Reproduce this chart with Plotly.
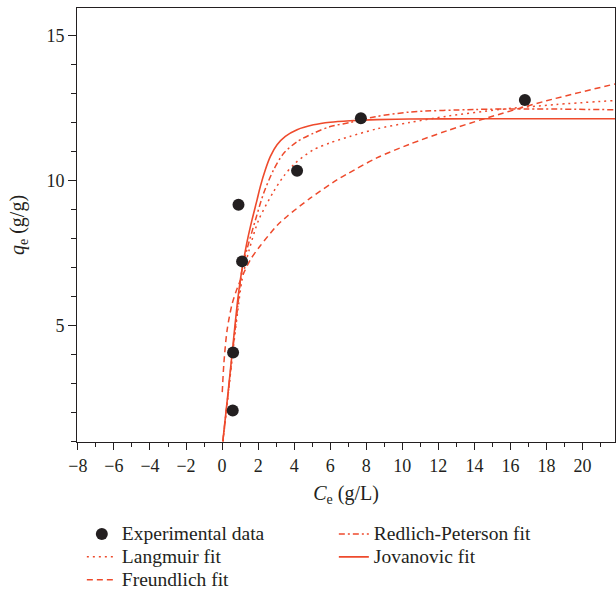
import plotly.graph_objects as go

# Experimental data
exp_ce = [0.59, 0.61, 0.91, 1.11, 4.16, 7.70, 16.8]
exp_qe = [2.07, 4.07, 9.16, 7.21, 10.34, 12.15, 12.78]

# Langmuir fit
lang_ce = [0.05, 0.3, 0.6, 0.85, 1.1, 1.5, 2.03, 2.86, 3.42, 4.06, 5.07, 6.0, 7.1, 8.58, 10.4, 12.5, 15.4, 18.5, 21.8]
lang_qe = [1.0, 2.4, 4.1, 5.4, 6.55, 7.6, 8.64, 9.62, 10.15, 10.6, 11.06, 11.3, 11.52, 11.78, 12.0, 12.22, 12.45, 12.62, 12.76]

# Freundlich fit
freu_ce = [0.01, 0.1, 0.28, 0.56, 0.85, 1.2, 1.6, 2.12, 3.05, 3.6, 4.89, 6.37, 7.01, 8.58, 10.4, 12.5, 14.5, 18.0, 21.8]
freu_qe = [2.7, 3.7, 4.85, 5.75, 6.3, 6.81, 7.3, 7.75, 8.45, 8.76, 9.39, 10.02, 10.25, 10.78, 11.25, 11.72, 12.12, 12.75, 13.33]

# Redlich-Peterson fit
rp_ce = [0.04, 0.3, 0.6, 0.85, 1.1, 1.39, 1.85, 2.31, 2.86, 3.42, 4.16, 5.07, 6.0, 7.1, 8.5, 10.4, 14.0, 17.0, 21.8]
rp_qe = [1.0, 2.45, 4.2, 5.55, 6.9, 7.65, 8.64, 9.57, 10.37, 10.94, 11.34, 11.63, 11.86, 12.0, 12.2, 12.36, 12.45, 12.47, 12.44]

# Jovanovic fit
jov_ce = [0.04, 0.3, 0.6, 0.85, 1.02, 1.2, 1.39, 1.66, 1.94, 2.12, 2.40, 2.68, 3.05, 3.51, 4.16, 5.07, 6.0, 7.1, 8.58, 10.4, 14.0, 18.0, 21.8]
jov_qe = [1.0, 2.5, 4.3, 5.8, 6.6, 7.27, 7.9, 8.64, 9.33, 9.79, 10.37, 10.83, 11.23, 11.52, 11.75, 11.92, 12.01, 12.06, 12.10, 12.12, 12.13, 12.13, 12.13]

# Legend labels
lbl_exp = "Experimental data"
lbl_lang = "Langmuir fit"
lbl_freu = "Freundlich fit"
lbl_rp = "Redlich-Peterson fit"
lbl_jov = "Jovanovic fit"

RED = "#EE4A2C"
INK = "#231F20"
FONT = "Liberation Serif"


def big(label):
    return '<span style="font-size:19.5px">' + label + "</span>"


fig = go.Figure()
fig.add_trace(go.Scatter(x=freu_ce, y=freu_qe, mode="lines", name=big(lbl_freu),
                         line=dict(color=RED, width=1.5, dash="6px,4px", shape="spline", smoothing=0.8), legendrank=5))
fig.add_trace(go.Scatter(x=lang_ce, y=lang_qe, mode="lines", name=big(lbl_lang),
                         line=dict(color=RED, width=1.5, dash="2px,4px", shape="spline", smoothing=0.8), legendrank=3))
fig.add_trace(go.Scatter(x=rp_ce, y=rp_qe, mode="lines", name=big(lbl_rp),
                         line=dict(color=RED, width=1.5, dash="6px,3px,2px,3px", shape="spline", smoothing=0.8), legendrank=2))
fig.add_trace(go.Scatter(x=jov_ce, y=jov_qe, mode="lines", name=big(lbl_jov),
                         line=dict(color=RED, width=1.6, shape="spline", smoothing=0.8), legendrank=4))
fig.add_trace(go.Scatter(x=exp_ce, y=exp_qe, mode="markers", name=big(lbl_exp),
                         marker=dict(color=INK, size=12), legendrank=1))

axis_common = dict(
    showgrid=False, zeroline=False, showline=True, linecolor=INK, linewidth=1,
    mirror=True, ticks="outside", tickcolor=INK, automargin=False,
    tickfont=dict(family=FONT, size=18, color=INK),
)

fig.update_xaxes(range=[-8.05, 21.8], dtick=2, tick0=0, ticklen=7,
                 minor=dict(dtick=1, ticklen=4, ticks="outside", tickcolor=INK),
                 title=dict(text="<i>C</i><sub>e</sub> (g/L)", font=dict(family=FONT, size=20, color=INK), standoff=11),
                 **axis_common)
fig.update_yaxes(range=[0.98, 15.95], dtick=5, tick0=0, ticklen=8,
                 minor=dict(dtick=1, ticklen=5, ticks="outside", tickcolor=INK),
                 title=dict(text="<i>q</i><sub>e</sub> (g/g)", font=dict(family=FONT, size=20, color=INK), standoff=16),
                 **axis_common)

fig.update_layout(
    width=616, height=592,
    margin=dict(l=77, r=1, t=8, b=150, autoexpand=False),
    plot_bgcolor="white", paper_bgcolor="white",
    font=dict(family=FONT, size=18, color=INK),
    legend=dict(orientation="h", x=0.009, xanchor="left", y=-0.174, yanchor="top",
                entrywidth=207, entrywidthmode="pixels",
                font=dict(family=FONT, size=15.3, color=INK),
                bgcolor="rgba(0,0,0,0)", tracegroupgap=0),
)

fig.write_html("out.html", config={"displayModeBar": False})

# remove the browser's default page margin so the figure sits at the window origin
with open("out.html", "r", encoding="utf-8") as f:
    html = f.read()
html = html.replace("<body>", '<body style="margin:0;padding:0;overflow:hidden">', 1)
with open("out.html", "w", encoding="utf-8") as f:
    f.write(html)
